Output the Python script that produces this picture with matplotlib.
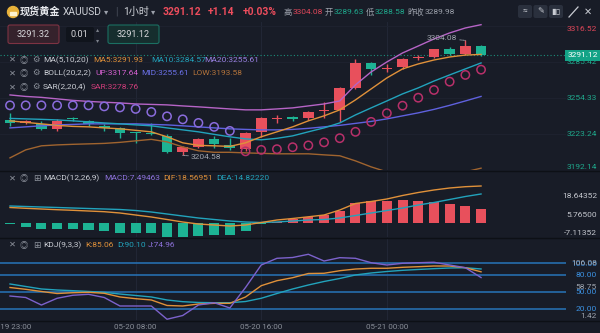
import numpy as np
import matplotlib
matplotlib.use("Agg")
import matplotlib.pyplot as plt
from matplotlib.patches import FancyBboxPatch, Circle, Rectangle

plt.rcParams['font.family'] = ['Roboto', 'Noto Sans CJK SC', 'DejaVu Sans']

# ---- hourly candles, 05-19 23:00 .. 05-21 06:00 (one-hour daily break)
opens = [3235.3, 3233.0, 3231.9, 3227.3, 3236.5, 3234.5, 3230.1, 3228.4, 3224.5, 3223.7,
         3221.5, 3207.7, 3212.3, 3218.7, 3213.7, 3210.0, 3225.2, 3236.0, 3237.0, 3236.8,
         3243.3, 3244.0, 3263.2, 3284.8, 3279.6, 3281.4, 3288.9, 3290.0, 3296.4, 3292.1, 3299.5]
highs = [3241.4, 3235.0, 3234.5, 3236.2, 3238.0, 3235.5, 3231.9, 3229.3, 3224.7, 3232.7,
         3223.2, 3213.0, 3220.0, 3221.5, 3219.5, 3225.0, 3237.5, 3239.6, 3238.8, 3243.4,
         3251.1, 3264.0, 3287.7, 3285.5, 3283.5, 3289.0, 3291.5, 3297.0, 3298.7, 3304.08, 3299.8]
lows = [3230.1, 3232.0, 3226.7, 3225.8, 3234.5, 3230.0, 3225.8, 3219.8, 3215.5, 3222.5,
        3207.0, 3204.58, 3211.0, 3211.0, 3209.0, 3208.0, 3220.9, 3232.5, 3234.0, 3235.5,
        3236.8, 3233.9, 3262.0, 3274.5, 3277.0, 3279.0, 3287.0, 3289.0, 3291.5, 3291.0, 3290.5]
closes = [3232.7, 3234.0, 3227.6, 3234.5, 3235.8, 3231.9, 3228.4, 3224.1, 3223.8, 3223.2,
          3207.7, 3212.0, 3218.7, 3214.7, 3210.9, 3223.8, 3236.8, 3236.5, 3236.5, 3242.5,
          3244.2, 3263.2, 3284.8, 3279.1, 3280.2, 3288.0, 3289.4, 3296.4, 3292.4, 3299.5, 3291.12]

ma5 = [3234.5, 3233.2, 3231.9, 3230.6, 3229.7, 3229.3, 3228.4, 3227.6, 3226.3, 3225.0,
       3220.7, 3215.5, 3213.3, 3212.9, 3212.4, 3215.5, 3220.7, 3225.0, 3229.3, 3234.5,
       3238.8, 3244.0, 3252.6, 3262.1, 3271.6, 3279.4, 3283.7, 3287.1, 3289.7, 3291.4, 3291.93]
ma10 = [3236.6, 3236.2, 3235.8, 3235.3, 3234.5, 3233.6, 3232.7, 3231.9, 3231.0, 3230.2,
        3228.4, 3226.7, 3225.0, 3222.8, 3220.7, 3218.9, 3218.1, 3219.4, 3221.5, 3225.0,
        3228.4, 3232.7, 3239.6, 3245.7, 3251.7, 3257.8, 3263.0, 3268.9, 3274.2, 3279.4, 3284.57]
# MA20 and BOLL MID are the same line
boll_mid = [3228.4, 3229.3, 3230.2, 3231.0, 3231.4, 3231.9, 3231.9, 3231.9, 3231.9, 3231.4,
            3231.0, 3230.2, 3229.3, 3228.4, 3227.6, 3227.1, 3226.7, 3226.7, 3227.1, 3228.0,
            3229.3, 3230.6, 3232.3, 3234.0, 3236.2, 3238.8, 3241.4, 3244.4, 3247.9, 3251.7, 3255.61]
boll_up = [3256.9, 3255.6, 3254.8, 3253.5, 3252.2, 3251.3, 3250.6, 3250.0, 3249.1, 3248.7,
           3248.3, 3247.4, 3246.6, 3245.7, 3244.8, 3244.0, 3244.0, 3244.8, 3245.7, 3247.4,
           3249.1, 3251.7, 3265.6, 3276.8, 3285.4, 3293.2, 3299.2, 3305.3, 3310.5, 3314.8, 3317.64]
boll_low = [3202.5, 3209.4, 3212.9, 3213.7, 3214.2, 3214.6, 3215.0, 3215.9, 3217.2, 3218.5,
            3216.3, 3212.0, 3208.6, 3207.3, 3207.3, 3206.8, 3206.4, 3206.0, 3206.0, 3206.0,
            3205.1, 3204.3, 3199.9, 3194.7, 3190.4, 3187.0, 3185.2, 3185.2, 3187.0, 3190.4, 3193.58]
sar = [3247.9, 3247.9, 3247.9, 3247.9, 3247.9, 3247.9, 3247.0, 3246.1, 3244.8, 3242.2,
       3238.4, 3235.8, 3232.7, 3229.3, 3225.8, 3208.1, 3209.4, 3210.0, 3211.7, 3213.3,
       3215.9, 3219.5, 3225.0, 3233.6, 3241.1, 3247.6, 3254.5, 3261.2, 3268.4, 3274.2, 3278.76]

macd_hist = [-1.2, -3.3, -4.4, -4.4, -4.4, -5.1, -5.8, -7.0, -7.4, -7.4,
             -9.8, -9.8, -9.1, -8.6, -8.6, -5.8, -0.8, 0.7, 2.3, 4.1,
             5.3, 8.2, 13.4, 15.2, 15.2, 15.7, 15.2, 14.5, 12.7, 11.5, 9.2]
dif = [10.46, 9.90, 9.42, 8.93, 8.52, 8.03, 7.55, 6.65, 5.26, 3.88,
       2.15, 0.42, -0.97, -1.66, -2.35, -1.66, 0.07, 1.80, 2.84, 4.02,
       5.26, 8.73, 13.23, 14.61, 16.34, 18.77, 20.84, 22.58, 23.96, 24.86, 25.35]
dea = [11.50, 11.15, 10.80, 10.46, 10.11, 9.76, 9.42, 9.07, 8.38, 7.34,
       5.96, 4.57, 3.19, 2.15, 1.11, 0.42, 0.07, 0.42, 1.11, 1.80,
       2.15, 3.19, 4.92, 6.65, 8.38, 10.11, 12.19, 13.92, 16.0, 18.07, 19.81]

k_line = [57.4, 54.2, 50.4, 46.8, 48.2, 48.9, 47.2, 40.7, 37.7, 35.4,
          25.7, 24.8, 28.3, 29.5, 29.5, 40.7, 60.6, 69.4, 74.7, 82.1,
          82.5, 87.0, 90.0, 91.3, 91.3, 93.0, 94.1, 95.3, 95.3, 92.3, 85.06]
d_line = [63.6, 59.2, 54.8, 53.0, 51.8, 50.4, 48.9, 45.9, 43.3, 40.7,
          35.4, 32.4, 31.0, 30.6, 30.6, 32.7, 38.4, 46.8, 54.8, 61.8,
          68.0, 73.3, 79.5, 83.0, 85.6, 87.7, 89.2, 90.6, 91.8, 92.2, 90.10]
j_line = [42.4, 39.8, 26.5, 38.4, 43.7, 45.4, 39.8, 24.8, 24.8, 24.8,
          1.42, 8.0, 26.5, 30.6, 21.3, 57.4, 97.1, 108.9, 110.3, 116.0,
          104.1, 110.0, 108.9, 101.1, 97.1, 100.1, 101.1, 101.9, 97.1, 92.3, 74.96]

price_ticks = [3316.52, 3285.42, 3254.33, 3223.24, 3192.14]
macd_ticks = [18.64352, 5.76500, -7.11352]
macd_tick_labels = ['18.64352', '5.76500', '-7.11352']
kdj_levels = [100, 80, 50, 20]
kdj_range = [106.08, 58.75, 1.42]
time_pos = [0, 8, 16, 24]
time_labels = ['05-19 23:00', '05-20 08:00', '05-20 16:00', '05-21 00:00']

bg = '#181c27'
red = '#e8505c'
green = '#1db394'
c_ma5 = '#e0913a'
c_ma10 = '#22a3bc'
c_mid = '#5f61de'
c_up = '#b664c6'
c_low = '#a0642f'
c_sar_up = '#b8306a'
c_sar_dn = '#8a6cdc'
txt = '#c9ccd3'

W, H = 600, 333
fig = plt.figure(figsize=(6, 3.33), dpi=100, facecolor=bg)


def px_axes(y0, y1, x0=0, x1=566):
    return fig.add_axes([x0 / W, 1 - y1 / H, (x1 - x0) / W, (y1 - y0) / H])


ax = px_axes(22, 170)
axm = px_axes(171, 237)
axk = px_axes(238, 320)
for a in (ax, axm, axk):
    a.set_facecolor(bg)
    for s in a.spines.values():
        s.set_visible(False)
    a.set_xlim(-0.637, 35.41)
    a.tick_params(axis='x', length=0, labelbottom=False)
    a.tick_params(axis='y', length=0, left=False, labelleft=False,
                  right=False, labelright=True, pad=22.3, labelsize=6)
    for tp in time_pos[1:]:
        a.axvline(tp, color='#232938', lw=0.6, zorder=0)

idx = np.arange(len(closes))
o = np.array(opens)
c = np.array(closes)
cols = np.where(c >= o, red, green)

# ---- main price panel
ax.set_ylim(3192.0, 3319.96)
ax.set_yticks(price_ticks)
ax.set_yticklabels(['%.2f' % v for v in price_ticks])
for i, lbl in enumerate(ax.get_yticklabels()):
    lbl.set_ha('right')
    lbl.set_color('#e0475a' if i == 0 else '#1fa88c')
    if i == 0:
        lbl.set_va('top')
    if i == len(price_ticks) - 1:
        lbl.set_va('bottom')
for v in price_ticks:
    ax.axhline(v, color='#1e2330', lw=0.6, zorder=0)

ax.vlines(idx, lows, highs, color=cols, lw=1, zorder=3)
ax.bar(idx, np.maximum(np.abs(c - o), 0.9), bottom=np.minimum(o, c),
       width=0.68, color=cols, linewidth=0, zorder=4)
ax.plot(idx, boll_up, color=c_up, lw=1, zorder=5)
ax.plot(idx, boll_low, color=c_low, lw=1, zorder=5)
ax.plot(idx, boll_mid, color=c_mid, lw=1, zorder=5)
ax.plot(idx, ma10, color=c_ma10, lw=1, zorder=5)
ax.plot(idx, ma5, color=c_ma5, lw=1, zorder=5)
sar_cols = np.where(np.array(sar) < c, c_sar_up, c_sar_dn)
ax.scatter(idx, sar, s=36, facecolors='none', edgecolors=sar_cols, linewidths=1.1, zorder=6)
ax.axhline(closes[-1], color='#1c8f7b', lw=0.8, ls=(0, (1, 2)), zorder=2)

hi_i = int(np.argmax(highs))
lo_i = int(np.argmin(lows))
ax.annotate('%.2f' % highs[hi_i], xy=(hi_i, highs[hi_i]), xytext=(-6, 1.5),
            textcoords='offset points', ha='right', va='center', fontsize=6, color='#a0a5ae',
            arrowprops=dict(arrowstyle='-', color='#a0a5ae', lw=0.6, linestyle=(0, (1, 1)),
                            shrinkA=0, shrinkB=0), zorder=7)
ax.annotate('%.2f' % lows[lo_i], xy=(lo_i, lows[lo_i]), xytext=(6, -1),
            textcoords='offset points', ha='left', va='center', fontsize=6, color='#a0a5ae',
            arrowprops=dict(arrowstyle='-', color='#a0a5ae', lw=0.6, linestyle=(0, (1, 1)),
                            shrinkA=0, shrinkB=0), zorder=7)
ax.text(1.003, closes[-1], '%.2f' % closes[-1], transform=ax.get_yaxis_transform(),
        ha='left', va='center', fontsize=6, color='white', clip_on=False, zorder=8,
        bbox=dict(boxstyle='square,pad=0.3', fc='#14a387', ec='none'))

# ---- MACD panel
axm.set_ylim(-9.97, 35.73)
axm.set_yticks(macd_ticks)
axm.set_yticklabels(macd_tick_labels)
for lbl in axm.get_yticklabels():
    lbl.set_ha('right')
    lbl.set_color('#c3c6cd')
h = np.array(macd_hist)
axm.bar(idx, h, width=0.64, color=np.where(h >= 0, red, green), linewidth=0, zorder=3)
axm.plot(idx, dea, color=c_ma10, lw=1, zorder=4)
axm.plot(idx, dif, color=c_ma5, lw=1, zorder=4)

# ---- KDJ panel
axk.set_ylim(0.09, 144.7)
axk.set_yticks(kdj_levels)
axk.set_yticklabels(['%.2f' % v for v in kdj_levels])
for lbl in axk.get_yticklabels():
    lbl.set_ha('right')
    lbl.set_color('#3b90e0')
for v in kdj_levels:
    axk.axhline(v, color='#2774b8', lw=1.1, zorder=1)
for v, va in zip(kdj_range, ['top', 'center', 'bottom']):
    axk.text(1.0548, v, '%.2f' % v, transform=axk.get_yaxis_transform(), ha='right', va=va,
             fontsize=6, color='#9da3ad', clip_on=False)
axk.plot(idx, d_line, color=c_ma10, lw=1, zorder=3)
axk.plot(idx, k_line, color=c_ma5, lw=1, zorder=3)
axk.plot(idx, j_line, color='#7c62cc', lw=1, zorder=3)
for p, lab in zip(time_pos, time_labels):
    axk.text(p, -0.09, lab, transform=axk.get_xaxis_transform(), ha='center', va='center',
             fontsize=5.8, color='#8a8f99', clip_on=False)

# ---- overlay: header, order boxes, legends, separators
ov = fig.add_axes([0, 0, 1, 1])
ov.set_xlim(0, W)
ov.set_ylim(H, 0)
ov.axis('off')
ov.patch.set_visible(False)
ov.set_zorder(10)


def t(x, y, s, color=txt, size=6.0, **kw):
    kw.setdefault('ha', 'left')
    kw.setdefault('va', 'center')
    ov.text(x, y, s, color=color, fontsize=size, **kw)


for yy in (170.5, 237.5, 320.5):
    ov.plot([0, W], [yy, yy], color='#0d1016', lw=1)

# title bar
ov.add_patch(Circle((13, 12), 5.5, color='#e8b23a'))
ov.add_patch(Rectangle((10, 11.5), 6, 3, color='#fff4d0'))
t(20, 12, '现货黄金', '#e8eaee', 7.3, fontweight='bold')
t(63, 12, 'XAUUSD', '#d0d3d9', 7.3)
t(104, 12, '▾', '#9ca1ab', 6)
t(115, 12, '|', '#4a505c', 7.5)
t(123, 12, '1小时', '#d0d3d9', 7.3)
t(151, 12, '▾', '#9ca1ab', 6)
t(163, 12, '3291.12', '#ee4d5d', 7.4, fontweight='bold')
t(208, 12, '+1.14', '#ee4d5d', 7.4, fontweight='bold')
t(243, 12, '+0.03%', '#ee4d5d', 7.4, fontweight='bold')
t(283, 12, '高', '#9ca1ab', 6.0)
t(293, 12, '3304.08', '#e0475a', 6.0)
t(325, 12, '开', '#9ca1ab', 6.0)
t(334, 12, '3289.63', '#1fa88c', 6.0)
t(366, 12, '低', '#9ca1ab', 6.0)
t(375, 12, '3288.58', '#1fa88c', 6.0)
t(407, 12, '昨收', '#9ca1ab', 6.0)
t(425, 12, '3289.98', '#9ca1ab', 6.0)
for x0, g in zip((518, 533.5, 549), ('≈', '✎', '▮▯')):
    ov.add_patch(FancyBboxPatch((x0, 5), 14, 13, boxstyle='round,pad=0,rounding_size=2',
                                fc='#2a303d', ec='none'))
    t(x0 + 7, 11.5, g, '#c9ccd3', 6, ha='center')
ov.plot([569, 578], [17, 7], color='#c9ccd3', lw=0.9)
t(588, 11.5, '✕', '#c9ccd3', 7, ha='center')

# order boxes
ov.add_patch(FancyBboxPatch((8, 25), 51, 18.5, boxstyle='round,pad=0,rounding_size=2',
                            fc='#35222c', ec='#7e3343', lw=0.8))
t(33.5, 34.5, '3291.32', '#d6d6da', 6.6, ha='center')
ov.add_patch(FancyBboxPatch((66, 27), 28, 15, boxstyle='round,pad=0,rounding_size=2',
                            fc='#10141c', ec='none'))
t(79.5, 34.5, '0.01', '#d6d6da', 6.6, ha='center')
t(98, 30, '▴', '#7d828c', 4.5, ha='center')
t(98, 41, '▾', '#7d828c', 4.5, ha='center')
ov.add_patch(FancyBboxPatch((108, 25), 51, 18.5, boxstyle='round,pad=0,rounding_size=2',
                            fc='#162e2e', ec='#1b6f62', lw=0.8))
t(133.5, 34.5, '3291.12', '#d6d6da', 6.6, ha='center')

# legends
icon_col = '#8d929c'


def icons(y, third):
    t(12.7, y, '✕', icon_col, 6, ha='center')
    t(23.5, y, '◎', icon_col, 6, ha='center')
    t(35.5, y, third, icon_col, 6, ha='center')


icons(60, '⚙')
t(43, 60, 'MA(5,10,20)')
t(93, 60, 'MA5:3291.93', c_ma5)
t(151, 60, 'MA10:3284.57', c_ma10)
t(204, 60, 'MA20:3255.61', '#9a82e4')
icons(73.3, '⚙')
t(43, 73.3, 'BOLL(20,2,2)')
t(95, 73.3, 'UP:3317.64', '#d460cf')
t(141, 73.3, 'MID:3255.61', '#6b71e8')
t(192, 73.3, 'LOW:3193.58', '#b3733b')
icons(87.3, '⚙')
t(43, 87.3, 'SAR(2,20,4)')
t(91, 87.3, 'SAR:3278.76', '#d03d7a')

t(12.7, 178.3, '✕', icon_col, 6, ha='center')
t(24, 178.3, '◎', icon_col, 6, ha='center')
t(37, 178.3, '⊞', icon_col, 6.5, ha='center')
t(43, 178.3, 'MACD(12,26,9)')
t(104, 178.3, 'MACD:7.49463', '#8e72dc')
t(163, 178.3, 'DIF:18.56951', c_ma5)
t(216, 178.3, 'DEA:14.82220', c_ma10)

t(12.7, 245, '✕', icon_col, 6, ha='center')
t(24, 245, '◎', icon_col, 6, ha='center')
t(37, 245, '⊞', icon_col, 6.5, ha='center')
t(43, 245, 'KDJ(9,3,3)')
t(85, 245, 'K:85.06', c_ma5)
t(117, 245, 'D:90.10', c_ma10)
t(148, 245, 'J:74.96', '#8e72dc')

fig.savefig('out.png', dpi=100, facecolor=bg)
